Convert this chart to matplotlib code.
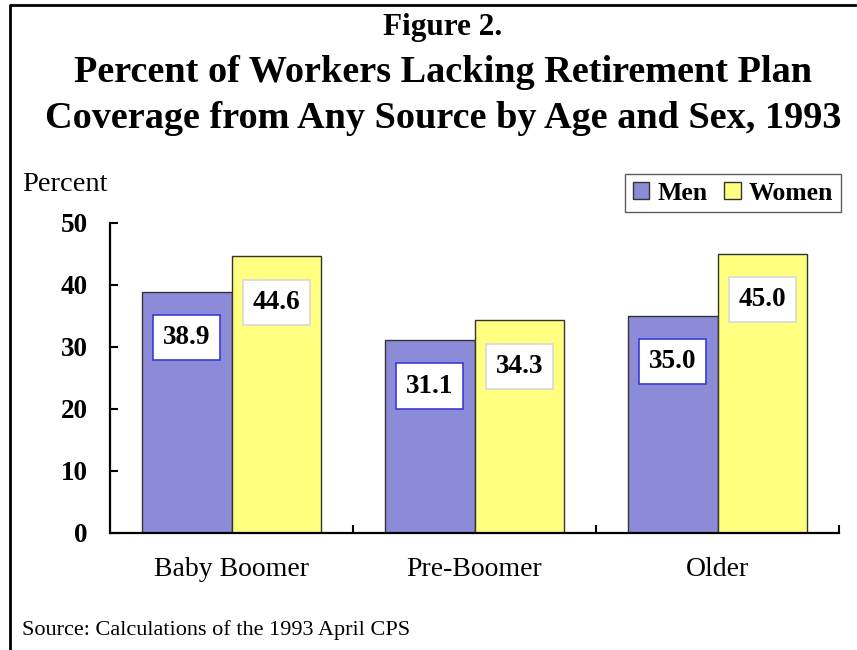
import matplotlib
matplotlib.use('Agg')
import matplotlib.pyplot as plt
from matplotlib.lines import Line2D
import numpy as np

groups = ['Baby Boomer', 'Pre-Boomer', 'Older']
men = [38.9, 31.1, 35.0]
women = [44.6, 34.3, 45.0]
series_names = ['Men', 'Women']
yticks = [0, 10, 20, 30, 40, 50]

plt.rcParams['font.family'] = ['Liberation Serif', 'DejaVu Serif']

W, H = 857, 650
fig = plt.figure(figsize=(W / 100, H / 100), dpi=100)
ax = fig.add_axes([110 / W, 1 - 533 / H, (839 - 110) / W, (533 - 223) / H])

pos = np.arange(len(groups))
width = 0.37
c_men = '#8B8BD8'
c_women = '#FFFF80'

b1 = ax.bar(pos - width / 2, men, width, color=c_men, edgecolor='#333333', linewidth=1, label=series_names[0])
b2 = ax.bar(pos + width / 2, women, width, color=c_women, edgecolor='#333333', linewidth=1, label=series_names[1])

# value boxes sit a bit below the top of each bar
for rects, vals, ec in [(b1, men, '#3a3ad8'), (b2, women, '#d8d8d8')]:
    for r, v in zip(rects, vals):
        ax.annotate(f'{v:.1f}', xy=(r.get_x() + r.get_width() / 2, v),
                    xytext=(0, -33), textcoords='offset points',
                    ha='center', va='center', fontsize=19.5, fontweight='bold',
                    bbox=dict(boxstyle='square,pad=0.37', facecolor='white', edgecolor=ec, linewidth=1.2))

ax.set_xlim(-0.5, 2.5)
ax.set_ylim(0, 50)
ax.set_yticks(yticks)
ax.set_yticklabels([str(t) for t in yticks], fontsize=19.5, fontweight='bold')
ax.tick_params(axis='y', direction='in', length=6, width=1.5, pad=16)

ax.set_xticks(pos)
ax.set_xticklabels(groups, fontsize=20)
ax.set_xticks([0.5, 1.5, 2.5], minor=True)
ax.tick_params(axis='x', which='major', length=0, pad=17)
ax.tick_params(axis='x', which='minor', direction='in', length=6, width=1.5)

for s in ['top', 'right']:
    ax.spines[s].set_visible(False)
for s in ['left', 'bottom']:
    ax.spines[s].set_linewidth(1.6)

leg = ax.legend(loc='upper right', bbox_to_anchor=(841 / W, 1 - 174 / H), bbox_transform=fig.transFigure,
                ncol=2, frameon=True, fancybox=False, borderaxespad=0,
                prop={'size': 18.5, 'weight': 'bold'},
                handlelength=0.66, handleheight=0.62, handletextpad=0.3,
                columnspacing=0.66, borderpad=0.3)
leg.get_frame().set_edgecolor('#333333')
leg.get_frame().set_linewidth(1)

# titles
cx = 443 / W
fig.text(cx, 1 - 35 / H, 'Figure 2.', ha='center', va='baseline', fontsize=22.5, fontweight='bold')
fig.text(cx, 1 - 82 / H, 'Percent of Workers Lacking Retirement Plan', ha='center', va='baseline',
         fontsize=27.5, fontweight='bold')
fig.text(cx, 1 - 128 / H, 'Coverage from Any Source by Age and Sex, 1993', ha='center', va='baseline',
         fontsize=27.5, fontweight='bold')

fig.text(22 / W, 1 - 191 / H, 'Percent', ha='left', va='baseline', fontsize=20.5)
fig.text(22 / W, 1 - 635 / H, 'Source: Calculations of the 1993 April CPS', ha='left', va='baseline', fontsize=16)

# outer frame (left and top edges visible)
fig.add_artist(Line2D([10 / W, 10 / W, 1.0], [0, 1 - 5 / H, 1 - 5 / H], transform=fig.transFigure,
                      color='black', linewidth=2))

fig.savefig('out.png', dpi=100)
